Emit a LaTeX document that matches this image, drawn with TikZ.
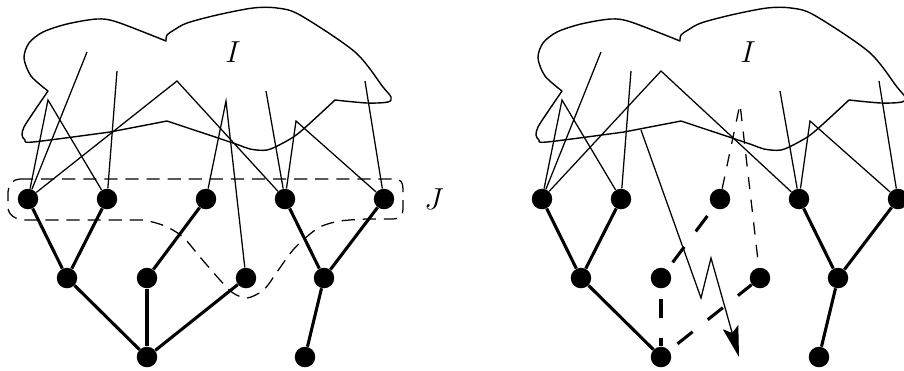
\documentclass[tikz,border=0pt]{standalone}
\usepackage{tikz}
\usetikzlibrary{arrows.meta}

\begin{document}
\begin{tikzpicture}[
    x=0.02cm,y=-0.02cm,
    font=\fontsize{17.5}{20}\selectfont,
    dot/.style={circle,fill=black,inner sep=0pt,minimum size=0.41cm},
    tree/.style={line width=1.75pt},
    treedash/.style={line width=1.75pt,dash pattern=on 11pt off 11pt,dash phase=16pt},
    link/.style={line width=0.72pt},
    linkdash/.style={line width=0.72pt,dash pattern=on 7pt off 6pt},
    jset/.style={line width=0.72pt,dash pattern=on 7.5pt off 4.5pt},
    outline/.style={line width=0.8pt,line join=round},
    jump/.style={link,-{Stealth[length=0.62cm,width=0.32cm,inset=0.12cm]}},
    cloudpic/.pic={
        \draw[outline] plot[smooth] coordinates {(48,91) (31,76) (24,58) (29,43) (43,32) (67,24) (97,19) (117,22) (166,41)}
            -- plot[smooth] coordinates {(166,41) (167,35) (174,30) (187,23) (217,15) (253,8) (277,8) (300,15) (355,52) (383,87) (391,97) (388,102) (367,103) (335,100)}
            -- plot[smooth] coordinates {(335,100) (300,132) (283,143) (267,150) (250,149) (233,143) (167,121)}
            -- (110,132)
            -- plot[smooth] coordinates {(110,132) (33,142) (25,140) (22,135) (24,127) (33,113) (48,91)} -- cycle;
    }
]
\useasboundingbox (0,0) rectangle (904,370);

\pic at (0,0) {cloudpic};
\pic at (514,0) {cloudpic};
\node (ilab) at (233,52) {$I$};
\node (irlab) at (748,52) {$I$};
\node (jlab) at (434,199) {$J$};

\node[dot] (ltop1) at (28,199) {};
\node[dot] (ltop2) at (107,199) {};
\node[dot] (ltop3) at (206,199) {};
\node[dot] (ltop4) at (285,199) {};
\node[dot] (ltop5) at (384,199) {};
\node[dot] (lmid1) at (67,278) {};
\node[dot] (lmid2) at (147,278) {};
\node[dot] (lmid3) at (246,278) {};
\node[dot] (lmid4) at (324,278) {};
\node[dot] (llow1) at (147,357) {};
\node[dot] (llow2) at (305,357) {};

\node[dot] (rtop1) at (542,199) {};
\node[dot] (rtop2) at (621,199) {};
\node[dot] (rtop3) at (720,199) {};
\node[dot] (rtop4) at (799,199) {};
\node[dot] (rtop5) at (898,199) {};
\node[dot] (rmid1) at (581,278) {};
\node[dot] (rmid2) at (661,278) {};
\node[dot] (rmid3) at (760,278) {};
\node[dot] (rmid4) at (838,278) {};
\node[dot] (rlow1) at (661,357) {};
\node[dot] (rlow2) at (819,357) {};

\coordinate (lu1) at (87,52);
\coordinate (lu2) at (48,100);
\coordinate (lu3) at (117,71);
\coordinate (lu4) at (177,81);
\coordinate (lu5) at (226,101);
\coordinate (lu6) at (266,91);
\coordinate (lu7) at (296,121);
\coordinate (lu8) at (365,81);
\coordinate (ru1) at (601,52);
\coordinate (ru2) at (562,100);
\coordinate (ru3) at (631,71);
\coordinate (ru4) at (661,71);
\coordinate (ru5) at (740,104);
\coordinate (ru6) at (780,91);
\coordinate (ru7) at (810,121);
\coordinate (ru8) at (879,81);
\coordinate (zstart) at (641,130);
\coordinate (zlow) at (701,298);
\coordinate (zhigh) at (711,258);
\coordinate (ztip) at (739,357);

\draw[jset] (20,179) -- (395,179) .. controls (401,179) and (403,183) .. (403,189) -- (403,209)
    .. controls (403,215) and (400,219) .. (393,219)
    -- plot[smooth] coordinates {(393,219) (367,219) (340,221) (322,226) (310,234) (293,250) (277,272) (268,285) (261,292) (247,298) (233,293) (220,280) (200,257) (183,237) (165,226) (145,220)}
    -- (25,220) .. controls (16,220) and (8,215) .. (8,207) -- (8,192) .. controls (8,185) and (13,179) .. (20,179) -- cycle;

\draw[link] (ltop1) -- (lu1);
\draw[link] (ltop1) -- (lu2) -- (ltop2);
\draw[link] (ltop2) -- (lu3);
\draw[link] (ltop1) -- (lu4) -- (ltop4);
\draw[link] (ltop3) -- (lu5) -- (lmid3);
\draw[link] (ltop4) -- (lu6);
\draw[link] (ltop4) -- (lu7) -- (ltop5);
\draw[link] (ltop5) -- (lu8);

\draw[tree] (ltop1) -- (lmid1);
\draw[tree] (ltop2) -- (lmid1);
\draw[tree] (lmid1) -- (llow1);
\draw[tree] (ltop3) -- (lmid2);
\draw[tree] (lmid2) -- (llow1);
\draw[tree] (lmid3) -- (llow1);
\draw[tree] (ltop4) -- (lmid4);
\draw[tree] (ltop5) -- (lmid4);
\draw[tree] (lmid4) -- (llow2);

\draw[link] (rtop1) -- (ru1);
\draw[link] (rtop1) -- (ru2) -- (rtop2);
\draw[link] (rtop2) -- (ru3);
\draw[link] (rtop1) -- (ru4) -- (rtop4);
\draw[linkdash] (rtop3) -- (ru5) -- (rmid3);
\draw[link] (rtop4) -- (ru6);
\draw[link] (rtop4) -- (ru7) -- (rtop5);
\draw[link] (rtop5) -- (ru8);
\draw[jump] (zstart) -- (zlow) -- (zhigh) -- (ztip);

\draw[tree] (rtop1) -- (rmid1);
\draw[tree] (rtop2) -- (rmid1);
\draw[tree] (rmid1) -- (rlow1);
\draw[treedash] (rtop3) -- (rmid2);
\draw[treedash] (rmid2) -- (rlow1);
\draw[treedash] (rlow1) -- (rmid3);
\draw[tree] (rtop4) -- (rmid4);
\draw[tree] (rtop5) -- (rmid4);
\draw[tree] (rmid4) -- (rlow2);
\end{tikzpicture}
\end{document}
